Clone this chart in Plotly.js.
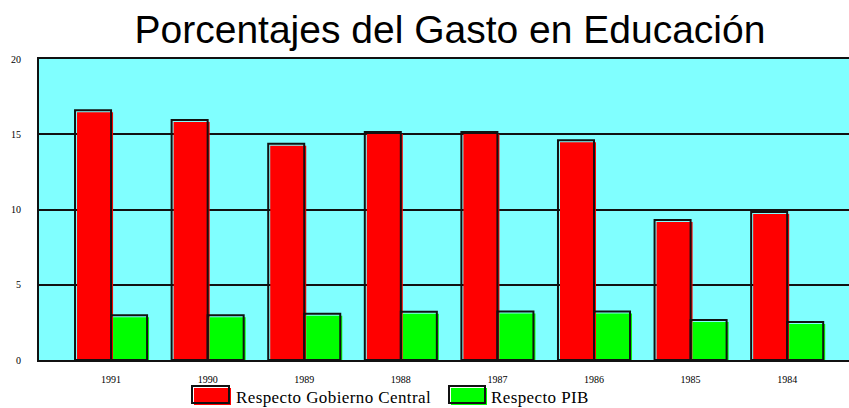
<!DOCTYPE html>
<html>
<head>
<meta charset="utf-8">
<script src="https://cdn.plot.ly/plotly-3.0.1.min.js"></script>
<style>html,body{margin:0;padding:0;background:#fff;}#chart{width:849px;height:408px;}</style>
</head>
<body>
<div id="chart"></div>
<script>
const years = ["1991", "1990", "1989", "1988", "1987", "1986", "1985", "1984"];
const gobiernoCentral = [16.6, 15.95, 14.37, 15.15, 15.15, 14.6, 9.3, 9.83];
const pib = [2.97, 2.97, 3.08, 3.21, 3.23, 3.23, 2.66, 2.52];
const seriesNames = ["Respecto Gobierno Central", "Respecto PIB"];
const seriesColors = ["#ff0000", "#00ff00"];

const xRange = [-0.746, 7.64];
const yRange = [0, 20];
// fill layer shifted ~2px down-right of the black outline (shadow look of original)
const dx = 2 / 96.57, dy = 2 * 20 / 301;

const traces = [
  // base subplot carries the grid and frame
  {type: 'scatter', x: years, y: gobiernoCentral, mode: 'none', hoverinfo: 'skip', xaxis: 'x', yaxis: 'y'},
  {type: 'bar', x: years, y: gobiernoCentral, name: seriesNames[0],
   marker: {color: seriesColors[0]}, xaxis: 'x2', yaxis: 'y2'},
  {type: 'bar', x: years, y: pib, name: seriesNames[1],
   marker: {color: seriesColors[1]}, xaxis: 'x2', yaxis: 'y2'},
  {type: 'bar', x: years, y: gobiernoCentral, hoverinfo: 'skip',
   marker: {color: 'rgba(0,0,0,0)', line: {color: '#111', width: 2}}, xaxis: 'x3', yaxis: 'y3'},
  {type: 'bar', x: years, y: pib, hoverinfo: 'skip',
   marker: {color: 'rgba(0,0,0,0)', line: {color: '#111', width: 2}}, xaxis: 'x3', yaxis: 'y3'}
];

// manual legend (large boxes like the original)
const L = 39, W = 810, B = 360, H = 301;
const px = v => (v - L) / W, py = v => (B - v) / H;
const legendItems = [
  {x0: 192, x1: 229, tx: 234},
  {x0: 449, x1: 485, tx: 489}
];
const shapes = [], annotations = [];
legendItems.forEach((it, i) => {
  shapes.push({type: 'rect', xref: 'paper', yref: 'paper', x0: px(it.x0 + 2), x1: px(it.x1 + 2), y0: py(405), y1: py(388),
               fillcolor: seriesColors[i], line: {width: 0}, layer: 'above'});
  shapes.push({type: 'rect', xref: 'paper', yref: 'paper', x0: px(it.x0), x1: px(it.x1), y0: py(403), y1: py(386),
               fillcolor: 'rgba(0,0,0,0)', line: {color: '#111', width: 2}, layer: 'above'});
  annotations.push({xref: 'paper', yref: 'paper', x: px(it.tx), y: py(397), xanchor: 'left', yanchor: 'middle',
                    showarrow: false, text: '<span style="letter-spacing:0.4px">' + seriesNames[i] + '</span>',
                    font: {family: 'Liberation Serif, Times New Roman, serif', size: 17, color: '#000'}});
});

const layout = {
  width: 849, height: 408,
  margin: {l: 39, r: 0, t: 59, b: 48},
  paper_bgcolor: '#ffffff',
  plot_bgcolor: '#80ffff',
  barmode: 'group', bargap: 0.254, bargroupgap: 0,
  showlegend: false,
  title: {text: 'Porcentajes del Gasto en Educación', font: {family: 'Liberation Sans, Arial, sans-serif', size: 39, color: '#000'},
          x: 0.53, xanchor: 'center', xref: 'container', y: 1 - 29 / 408, yanchor: 'middle', yref: 'container'},
  xaxis: {type: 'category', range: xRange, showgrid: false, zeroline: false, automargin: false,
          showline: true, linecolor: '#111', linewidth: 2, mirror: true, ticks: '',
          ticklabelstandoff: 9,
          tickfont: {family: 'Liberation Serif, Times New Roman, serif', size: 10, color: '#000'}},
  yaxis: {range: yRange, dtick: 5, tick0: 0, showgrid: true, gridcolor: '#111', gridwidth: 2, automargin: false,
          zeroline: false, showline: true, linecolor: '#111', linewidth: 2, mirror: true, ticks: '',
          ticklabelstandoff: 14,
          tickfont: {family: 'Liberation Serif, Times New Roman, serif', size: 10, color: '#000'}},
  xaxis2: {type: 'category', overlaying: 'x', range: [xRange[0] - dx, xRange[1] - dx], visible: false},
  yaxis2: {overlaying: 'y', range: [yRange[0] + dy, yRange[1] + dy], visible: false},
  xaxis3: {type: 'category', overlaying: 'x', range: xRange, visible: false},
  yaxis3: {overlaying: 'y', range: yRange, visible: false},
  shapes: shapes,
  annotations: annotations
};

Plotly.newPlot('chart', traces, layout, {displayModeBar: false, staticPlot: true});
</script>
</body>
</html>
